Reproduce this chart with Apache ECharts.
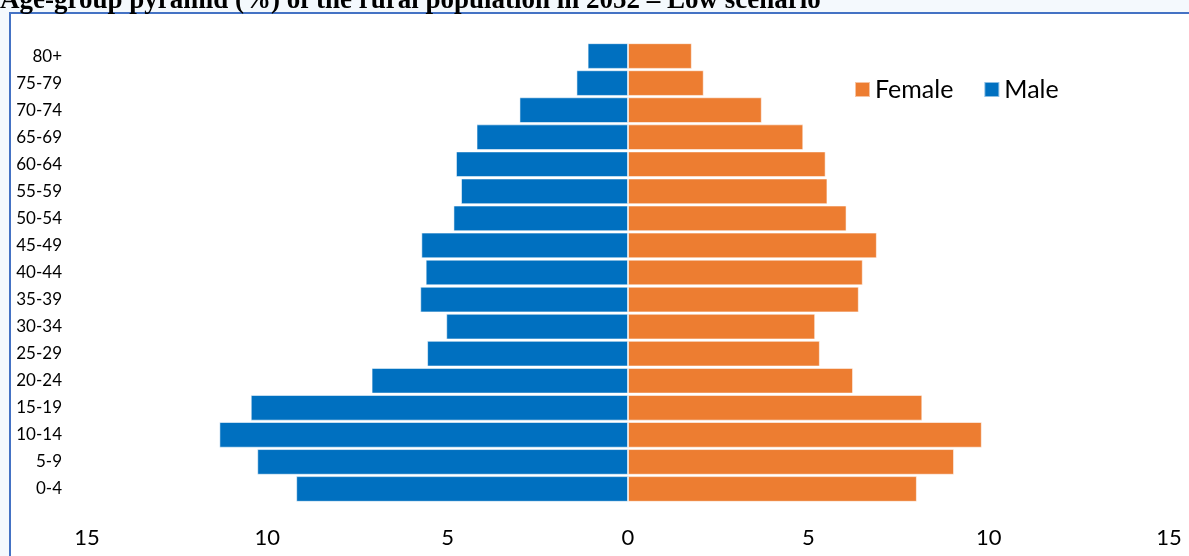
<!DOCTYPE html>
<html>
<head>
<meta charset="utf-8">
<script src="https://cdn.jsdelivr.net/npm/echarts@6/dist/echarts.min.js"></script>
<style>
  html, body { margin: 0; padding: 0; background: #f4f9fd; }
  #chart { width: 1189px; height: 556px; }
</style>
</head>
<body>
<div id="chart"></div>
<script>
// age groups, bottom to top
const ageGroups = ['0-4', '5-9', '10-14', '15-19', '20-24', '25-29', '30-34', '35-39', '40-44',
  '45-49', '50-54', '55-59', '60-64', '65-69', '70-74', '75-79', '80+']

// share of rural population (%), 2052 low scenario
const maleValues = [9.20, 10.28, 11.33, 10.46, 7.11, 5.57, 5.04, 5.76, 5.61,
  5.73, 4.84, 4.63, 4.77, 4.20, 3.01, 1.43, 1.12]
const femaleValues = [8.01, 9.04, 9.81, 8.16, 6.24, 5.32, 5.19, 6.40, 6.51,
  6.90, 6.06, 5.53, 5.48, 4.86, 3.71, 2.10, 1.77]

const titleText = 'Age-group pyramid (%) of the rural population in 2052 \u2013 Low scenario'

const chart = echarts.init(document.getElementById('chart'))

chart.setOption({
  backgroundColor: '#f4f9fd',
  animation: false,
  graphic: [
    {
      type: 'rect',
      z: 0,
      silent: true,
      shape: { x: 10, y: 13, width: 1300, height: 700 },
      style: { fill: '#ffffff', stroke: '#4472c4', lineWidth: 2 }
    },
    {
      type: 'text',
      z: 1,
      silent: true,
      style: {
        x: 0,
        y: 15,
        text: titleText,
        verticalAlign: 'bottom',
        fill: '#000',
        font: 'bold 27px "Liberation Serif"'
      }
    }
  ],
  legend: {
    data: ['Female', 'Male'],
    left: 854,
    top: 77,
    padding: 0,
    itemWidth: 15,
    itemHeight: 15,
    itemGap: 30,
    icon: 'rect',
    textStyle: { fontFamily: 'Lato', fontSize: 25, color: '#000' }
  },
  grid: {
    left: 87,
    right: 20,
    top: 42.5,
    bottom: 53.5
  },
  xAxis: {
    type: 'value',
    min: -15,
    max: 15,
    interval: 5,
    axisLine: { show: false },
    axisTick: { show: false },
    splitLine: { show: false },
    axisLabel: {
      margin: 24,
      fontFamily: 'Lato',
      fontSize: 22,
      color: '#000',
      formatter: v => Math.abs(v)
    }
  },
  yAxis: {
    type: 'category',
    data: ageGroups,
    axisLine: { show: false },
    axisTick: { show: false },
    axisLabel: {
      margin: 25,
      fontFamily: 'Lato',
      fontSize: 17,
      color: '#000'
    }
  },
  series: [
    {
      name: 'Female',
      type: 'bar',
      stack: 'pop',
      barCategoryGap: '5%',
      data: femaleValues,
      itemStyle: {
        color: '#ed7d31',
        borderColor: 'rgba(255,255,255,0.55)',
        borderWidth: 1
      }
    },
    {
      name: 'Male',
      type: 'bar',
      stack: 'pop',
      barCategoryGap: '5%',
      data: maleValues.map(v => -v),
      itemStyle: {
        color: '#0070c0',
        borderColor: 'rgba(255,255,255,0.55)',
        borderWidth: 1
      }
    }
  ]
})
</script>
</body>
</html>
